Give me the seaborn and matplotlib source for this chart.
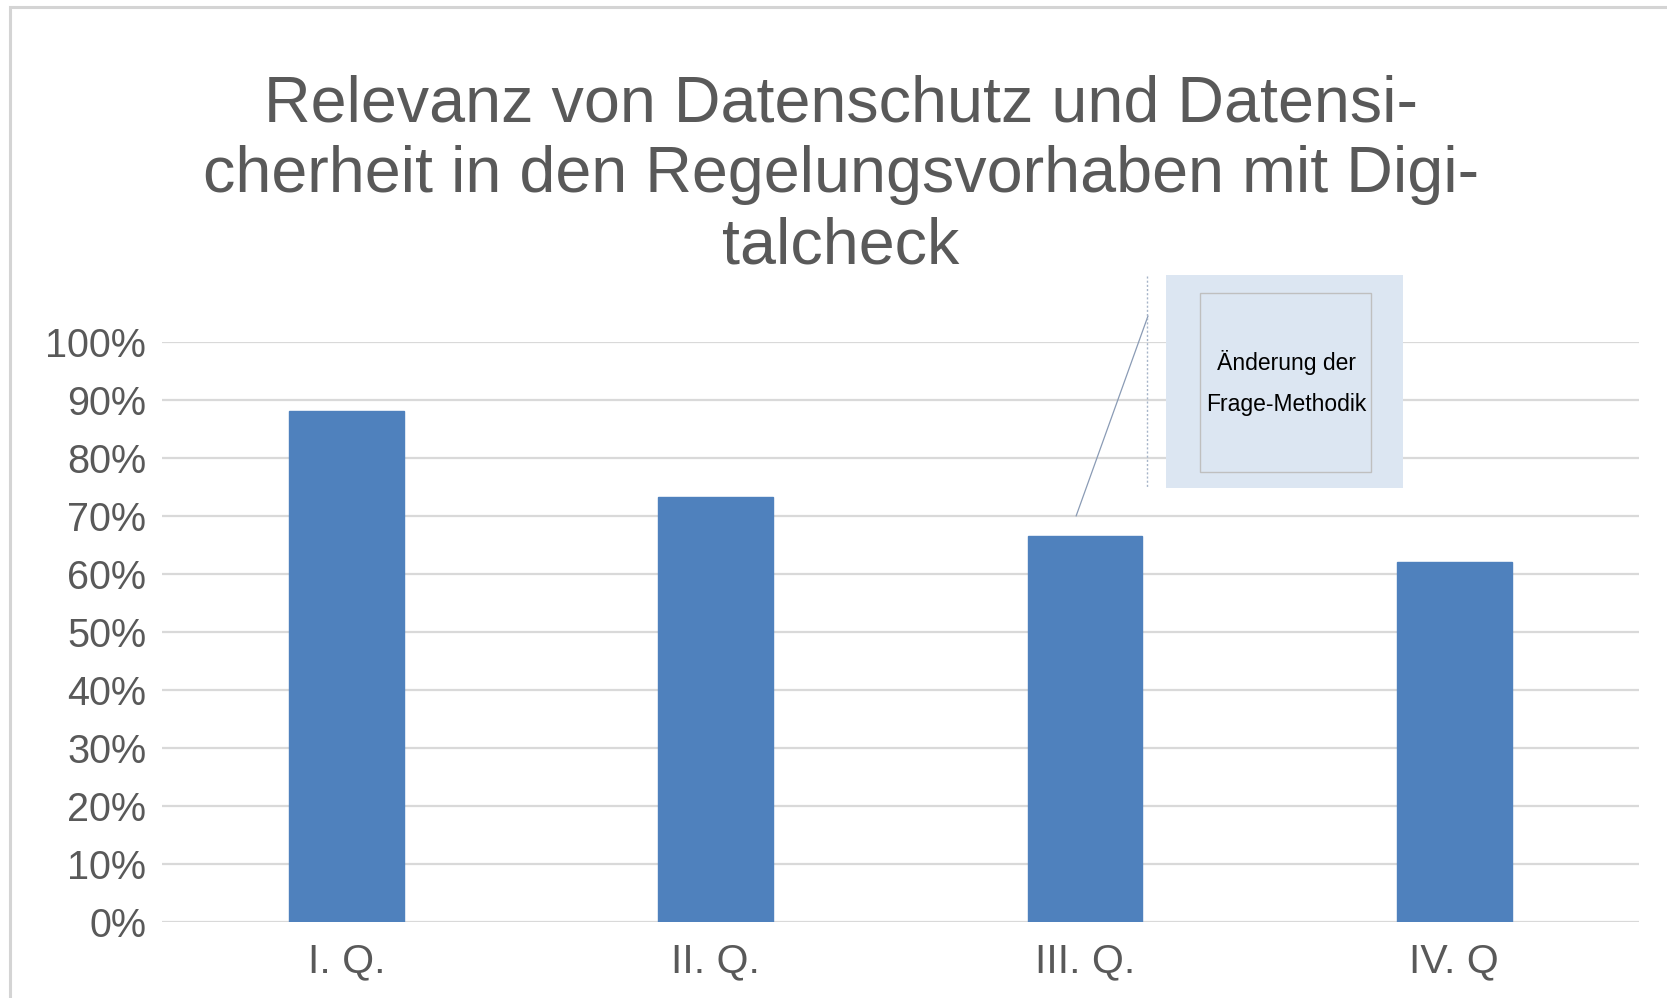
import matplotlib
matplotlib.use("Agg")
import matplotlib.pyplot as plt
from matplotlib.patches import Rectangle
from matplotlib.lines import Line2D
import seaborn as sns
import pandas as pd

categories = ["I. Q.", "II. Q.", "III. Q.", "IV. Q"]
values = [0.881, 0.733, 0.666, 0.621]
y_ticks = [0.0, 0.1, 0.2, 0.3, 0.4, 0.5, 0.6, 0.7, 0.8, 0.9, 1.0]
y_tick_labels = ["0%", "10%", "20%", "30%", "40%", "50%", "60%", "70%", "80%", "90%", "100%"]
title_lines = ["Relevanz von Datenschutz und Datensi-",
               "cherheit in den Regelungsvorhaben mit Digi-",
               "talcheck"]
annotation_text = "Änderung der\nFrage-Methodik"

sns.set_theme(style="white")
plt.rcParams['font.family'] = ['Liberation Sans', 'DejaVu Sans']

W, H = 1667, 998
fig = plt.figure(figsize=(W / 100, H / 100), dpi=100)
fig.patch.set_facecolor("white")

def fx(px):
    return px / W

def fy(py):
    return 1 - py / H

ax_left, ax_right, ax_top, ax_bottom = 161.6, 1639, 342, 922
ax = fig.add_axes([fx(ax_left), fy(ax_bottom), fx(ax_right - ax_left), (ax_bottom - ax_top) / H])

df = pd.DataFrame({"Quartal": categories, "Anteil": values})
sns.barplot(data=df, x="Quartal", y="Anteil", color="#4f81bd", saturation=1,
            width=0.31, ax=ax, zorder=3)

ax.set_ylim(0, 1.0)
ax.set_xlim(-0.5, len(categories) - 0.5)
ax.set_yticks(y_ticks)
ax.set_yticklabels(y_tick_labels)
ax.yaxis.grid(True, color="#d9d9d9", linewidth=1.6, zorder=0)
ax.set_axisbelow(True)
for s in ax.spines.values():
    s.set_visible(False)
ax.tick_params(axis="y", length=0, pad=11, labelsize=28.5, labelcolor="#595959")
ax.tick_params(axis="x", length=0, pad=15, labelsize=29.5, labelcolor="#595959")
ax.set_xlabel("")
ax.set_ylabel("")
for lbl in ax.get_xticklabels():
    lbl.set_x(lbl.get_position()[0])
for b in ax.patches:
    b.set_edgecolor("#4f81bd")

# title
title_y = [104, 175, 246]
for line, yy in zip(title_lines, title_y):
    fig.text(fx(841), fy(yy), line, ha="center", va="center", fontsize=46.5, color="#595959")

# outer frame
fig.patches.append(Rectangle((fx(10), fy(1100)), 2, fy(7) - fy(1100), transform=fig.transFigure,
                             fill=False, edgecolor="#d4d4d4", linewidth=2.2))

# annotation box
fig.patches.append(Rectangle((fx(1166), fy(488)), fx(1403 - 1166), (488 - 275) / H,
                             transform=fig.transFigure, facecolor="#dce6f2", edgecolor="none", zorder=5))
fig.patches.append(Rectangle((fx(1200), fy(472)), fx(1371 - 1200), (472 - 293) / H,
                             transform=fig.transFigure, facecolor="none", edgecolor="#bfbfbf",
                             linewidth=1.0, zorder=6))
fig.text(fx(1286), fy(383), annotation_text, ha="center", va="center", fontsize=16.5,
         color="black", linespacing=2.0, zorder=7)
fig.lines.append(Line2D([fx(1147), fx(1147)], [fy(276), fy(488)], transform=fig.transFigure,
                        color="#a6b4c8", linewidth=1.0, linestyle=(0, (1.5, 1.5)), zorder=6))

# leader line from bar III to box
ax.annotate("", xy=(1.976, 0.70), xycoords="data",
            xytext=(fx(1148), fy(316)), textcoords="figure fraction",
            arrowprops=dict(arrowstyle="-", color="#8a9bb5", linewidth=0.9, shrinkA=0, shrinkB=0),
            annotation_clip=False, zorder=6)

fig.savefig("out.png", dpi=100)
